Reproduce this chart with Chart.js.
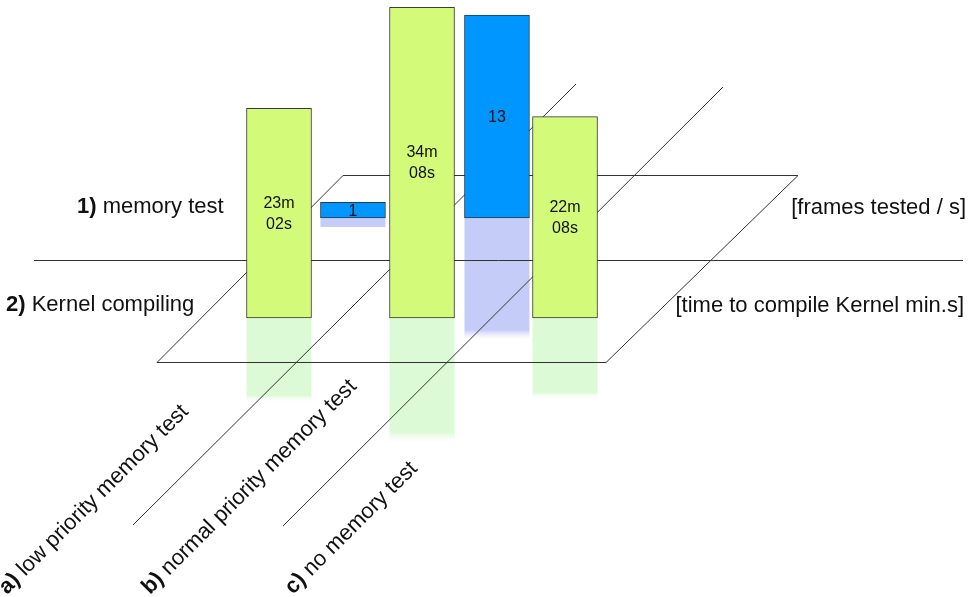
<!DOCTYPE html>
<html>
<head>
<meta charset="utf-8">
<script src="https://cdn.jsdelivr.net/npm/chart.js@4.4.1/dist/chart.umd.min.js"></script>
<style>
  html, body { margin: 0; padding: 0; background: #fff; }
</style>
</head>
<body>
<canvas id="chart" width="968" height="597"></canvas>
<script>
// tests (one column each) and what was measured
const testKeys = ['a)', 'b)', 'c)'];
const testNames = ['low priority memory test', 'normal priority memory test', 'no memory test'];
const framesPerSecond = [1, 13, null];   // 1) memory test, frames tested / s
const compileMinutes = [23, 34, 22];     // 2) Kernel compiling
const compileSecs = [2, 8, 8];

const rowKeys = ['1)', '2)'];
const rowNames = ['memory test', 'Kernel compiling'];
const rowUnits = ['[frames tested / s]', '[time to compile Kernel min.s]'];

const compileTimes = compileMinutes.map((m, i) => m + compileSecs[i] / 60);
const compileLabels = compileMinutes.map((m, i) => [m + 'm', String(compileSecs[i]).padStart(2, '0') + 's']);
const framePoints = framesPerSecond.map((v, i) => ({ x: i, y: v })).filter(p => p.y !== null);

const FONT = '"Liberation Sans", Arial, Helvetica, sans-serif';

const stage = {
    id: 'stage',
    beforeDatasetsDraw(chart) {
        const ctx = chart.ctx;
        ctx.save();
        // pale reflections under each bar
        chart.data.datasets.forEach((ds, di) => {
            chart.getDatasetMeta(di).data.forEach(bar => {
                const h = (bar.base - bar.y) * ds.reflect;
                const g = ctx.createLinearGradient(0, bar.base, 0, bar.base + h);
                g.addColorStop(0, ds.reflectColor);
                g.addColorStop(0.92, ds.reflectColor);
                g.addColorStop(1, 'rgba(255,255,255,0.4)');
                ctx.fillStyle = g;
                ctx.fillRect(bar.x - bar.width / 2, bar.base, bar.width, h);
            });
        });

        // floor plane and column separators
        ctx.strokeStyle = '#333';
        ctx.lineWidth = 1;
        ctx.beginPath();
        ctx.moveTo(34, 260.5); ctx.lineTo(963, 260.5);
        ctx.moveTo(343, 175.5); ctx.lineTo(798, 175.5);
        ctx.lineTo(606, 362.5); ctx.lineTo(157, 362.5); ctx.closePath();
        ctx.moveTo(133, 525); ctx.lineTo(576, 84);
        ctx.moveTo(283, 526); ctx.lineTo(723, 87);
        ctx.stroke();
        ctx.restore();
    },
    afterDatasetsDraw(chart) {
        const ctx = chart.ctx;
        ctx.save();
        ctx.fillStyle = '#111';
        ctx.textAlign = 'center';
        ctx.textBaseline = 'middle';
        ctx.font = '16px ' + FONT;

        // values inside the bars
        chart.getDatasetMeta(0).data.forEach((bar, i) => {
            const mid = (bar.y + bar.base) / 2;
            ctx.fillText(compileLabels[i][0], bar.x, mid - 10);
            ctx.fillText(compileLabels[i][1], bar.x, mid + 11);
        });
        chart.getDatasetMeta(1).data.forEach((bar, i) => {
            ctx.fillText(String(framePoints[i].y), bar.x, (bar.y + bar.base) / 2 + 1);
        });

        // row titles and units
        ctx.textAlign = 'left';
        ctx.textBaseline = 'alphabetic';
        const rowPos = [[77, 213], [6, 311]];
        rowKeys.forEach((k, i) => {
            ctx.font = 'bold 22px ' + FONT;
            ctx.fillText(k, rowPos[i][0], rowPos[i][1]);
            const w = ctx.measureText(k + ' ').width;
            ctx.font = '22px ' + FONT;
            ctx.fillText(rowNames[i], rowPos[i][0] + w, rowPos[i][1]);
        });
        ctx.textAlign = 'right';
        ctx.fillText(rowUnits[0], 966, 214);
        ctx.fillText(rowUnits[1], 964, 312);

        // slanted column names
        const xs = chart.scales.xFront;
        ctx.textAlign = 'left';
        testKeys.forEach((k, i) => {
            ctx.save();
            ctx.translate(xs.getPixelForValue(i) - 272, 595);
            ctx.rotate(-Math.PI / 4);
            ctx.font = 'bold 22px ' + FONT;
            ctx.fillText(k, 0, 0);
            const w = ctx.measureText(k + ' ').width;
            ctx.font = '22px ' + FONT;
            ctx.fillText(testNames[i], w, 0);
            ctx.restore();
        });
        ctx.restore();
    }
};

const ctx = document.getElementById('chart').getContext('2d');
new Chart(ctx, {
    type: 'bar',
    data: {
        datasets: [{
            label: 'Kernel compiling',
            data: compileTimes.map((v, i) => ({ x: i, y: v })),
            xAxisID: 'xFront',
            yAxisID: 'yTime',
            backgroundColor: '#d4fa7a',
            borderColor: '#3a3a3a',
            borderWidth: 1,
            borderSkipped: false,
            barThickness: 65,
            grouped: false,
            reflect: 0.4,
            reflectColor: '#ddfad6'
        }, {
            label: 'memory test',
            data: framePoints,
            xAxisID: 'xBack',
            yAxisID: 'yFrames',
            backgroundColor: '#0096ff',
            borderColor: '#2a3a4a',
            borderWidth: 1,
            borderSkipped: false,
            barThickness: 65,
            grouped: false,
            reflect: 0.6,
            reflectColor: '#c6ccf8'
        }]
    },
    options: {
        responsive: false,
        animation: false,
        layout: { padding: 0 },
        plugins: {
            legend: { display: false },
            tooltip: { enabled: false }
        },
        scales: {
            xFront: { type: 'linear', display: false, offset: false, min: -1.951, max: 4.818 },
            xBack: { type: 'linear', display: false, offset: false, min: -2.451, max: 4.271 },
            yTime: { type: 'linear', display: false, min: -30.66, max: 34.95 },
            yFrames: { type: 'linear', display: false, min: -24.29, max: 13.97 }
        }
    },
    plugins: [stage]
});
</script>
</body>
</html>
